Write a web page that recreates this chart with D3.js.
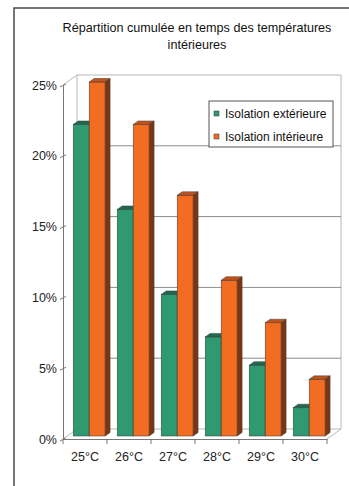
<!DOCTYPE html>
<html>
<head>
<meta charset="utf-8">
<script src="https://cdn.jsdelivr.net/npm/d3@7"></script>
<style>
  html, body { margin: 0; padding: 0; background: #fff; }
  svg { display: block; font-family: "Liberation Sans", Arial, sans-serif; }
</style>
</head>
<body>
<svg id="chart" width="349" height="486"></svg>
<script>
// Cumulative share of time spent above each indoor temperature
const categories = ["25°C", "26°C", "27°C", "28°C", "29°C", "30°C"];
const seriesNames = ["Isolation extérieure", "Isolation intérieure"];
const exterieure = [22, 16, 10, 7, 5, 2];
const interieure = [25, 22, 17, 11, 8, 4];
const yTicks = [0, 5, 10, 15, 20, 25];
const titleLines = ["Répartition cumulée en temps des températures", "intérieures"];

const colors = [
  { front: "#2f9a72", top: "#1f6a4d", side: "#17503a" },
  { front: "#f26c22", top: "#c4521a", side: "#7c3511" }
];

const svg = d3.select("#chart");

// Plot geometry: front plane of the floor/axis, plus the 3D depth offset
const plotLeft = 63, plotRight = 327, plotBottom = 439, plotTop = 85;
const depth = { dx: 14, dy: -10 };
const barDepth = { f1: 0.3, f2: 0.65 };

const x = d3.scaleBand().domain(categories).range([plotLeft, plotRight]).paddingInner(0).paddingOuter(0);
const y = d3.scaleLinear().domain([0, 25]).range([plotBottom, plotTop]);
const sub = d3.scaleBand().domain(seriesNames).range([-16, 16]);

// Outer frame
svg.append("path")
  .attr("d", "M14,486 L14,8 L349,8")
  .attr("fill", "none").attr("stroke", "#4a4a4a").attr("stroke-width", 1.5);

// Title
svg.append("g").selectAll("text").data(titleLines).join("text")
  .attr("x", 197).attr("y", (d, i) => 32 + i * 17)
  .attr("text-anchor", "middle").attr("font-size", 12.6).attr("fill", "#111")
  .text(d => d);

// Walls: side wall edge, back wall and floor outline
const bx = plotLeft + depth.dx, rx = plotRight + depth.dx;
const wall = svg.append("g").attr("fill", "none").attr("stroke", "#b8b8b8").attr("stroke-width", 1);
wall.append("path").attr("d", `M${plotLeft},${y(25)} L${bx},${y(25) + depth.dy} L${rx},${y(25) + depth.dy} L${rx},${plotBottom + depth.dy}`);
wall.append("path").attr("d", `M${bx},${y(25) + depth.dy} L${bx},${plotBottom + depth.dy} L${rx},${plotBottom + depth.dy}`);
wall.append("path").attr("d", `M${plotLeft},${plotBottom} L${bx},${plotBottom + depth.dy}`);
wall.append("path").attr("d", `M${plotRight},${plotBottom} L${rx},${plotBottom + depth.dy}`);

// Gridlines on the back wall
svg.append("g").selectAll("line").data(yTicks.filter(t => t > 0 && t < 25)).join("line")
  .attr("x1", bx).attr("x2", rx)
  .attr("y1", d => y(d) + depth.dy).attr("y2", d => y(d) + depth.dy)
  .attr("stroke", "#8c8c8c").attr("stroke-width", 1);

// 3D bars
const bars = [];
categories.forEach((c, i) => {
  [exterieure, interieure].forEach((arr, s) => {
    bars.push({ cat: c, s, v: arr[i] });
  });
});
const ox1 = depth.dx * barDepth.f1, oy1 = depth.dy * barDepth.f1;
const ox2 = depth.dx * barDepth.f2, oy2 = depth.dy * barDepth.f2;
const sideW = ox2 - ox1, sideH = oy2 - oy1;

const barG = svg.append("g").selectAll("g").data(bars).join("g");
barG.each(function (d) {
  const g = d3.select(this);
  const cx = x(d.cat) + x.bandwidth() / 2 + ox1;
  const x0 = cx + sub(seriesNames[d.s]);
  const x1 = x0 + sub.bandwidth();
  const yb = y(0) + oy1, yt = y(d.v) + oy1;
  const c = colors[d.s];
  g.append("rect").attr("x", x0).attr("y", yt).attr("width", x1 - x0).attr("height", yb - yt)
    .attr("fill", c.front).attr("stroke", "#3a3a3a").attr("stroke-width", 0.5);
  g.append("path")
    .attr("d", `M${x0},${yt} L${x0 + sideW},${yt + sideH} L${x1 + sideW},${yt + sideH} L${x1},${yt} Z`)
    .attr("fill", c.top).attr("stroke", "#3a3a3a").attr("stroke-width", 0.5);
  g.append("path")
    .attr("d", `M${x1},${yt} L${x1 + sideW},${yt + sideH} L${x1 + sideW},${yb + sideH} L${x1},${yb} Z`)
    .attr("fill", c.side).attr("stroke", "#3a3a3a").attr("stroke-width", 0.5);
});

// Y axis with slanted tick marks
const yAxis = svg.append("g").attr("transform", `translate(${plotLeft},0)`)
  .call(d3.axisLeft(y).tickValues(yTicks).tickFormat(d => d + "%").tickSize(3).tickSizeOuter(0));
yAxis.select(".domain").attr("stroke", "#777");
yAxis.selectAll(".tick line").attr("x1", -3).attr("y1", 1.5).attr("x2", 3).attr("y2", -1.5).attr("stroke", "#777");
yAxis.selectAll(".tick text").attr("x", -6).attr("font-size", 12.5).attr("fill", "#222")
  .attr("font-family", "Liberation Sans, Arial, sans-serif");

// X axis: category labels centred, tick marks at category boundaries
const xAxis = svg.append("g").attr("transform", `translate(0,${plotBottom})`)
  .call(d3.axisBottom(x).tickSize(0).tickPadding(13));
xAxis.select(".domain").attr("stroke", "#777");
xAxis.selectAll(".tick text").attr("font-size", 12.5).attr("fill", "#222")
  .attr("font-family", "Liberation Sans, Arial, sans-serif");
const bounds = categories.map(c => x(c)).concat([plotRight]);
svg.append("g").selectAll("line").data(bounds).join("line")
  .attr("x1", d => d).attr("x2", d => d).attr("y1", plotBottom).attr("y2", plotBottom + 5)
  .attr("stroke", "#777");

// Legend
const legend = svg.append("g").attr("transform", "translate(209,101)");
legend.append("rect").attr("width", 124).attr("height", 46)
  .attr("fill", "#fff").attr("stroke", "#555").attr("stroke-width", 1);
const li = legend.selectAll("g").data(seriesNames).join("g")
  .attr("transform", (d, i) => `translate(5,${10 + i * 23})`);
li.append("rect").attr("width", 5).attr("height", 5)
  .attr("fill", (d, i) => colors[i].front).attr("stroke", "#333").attr("stroke-width", 0.5);
li.append("text").attr("x", 11).attr("y", 6.5).attr("font-size", 12).attr("fill", "#111").text(d => d);
</script>
</body>
</html>
